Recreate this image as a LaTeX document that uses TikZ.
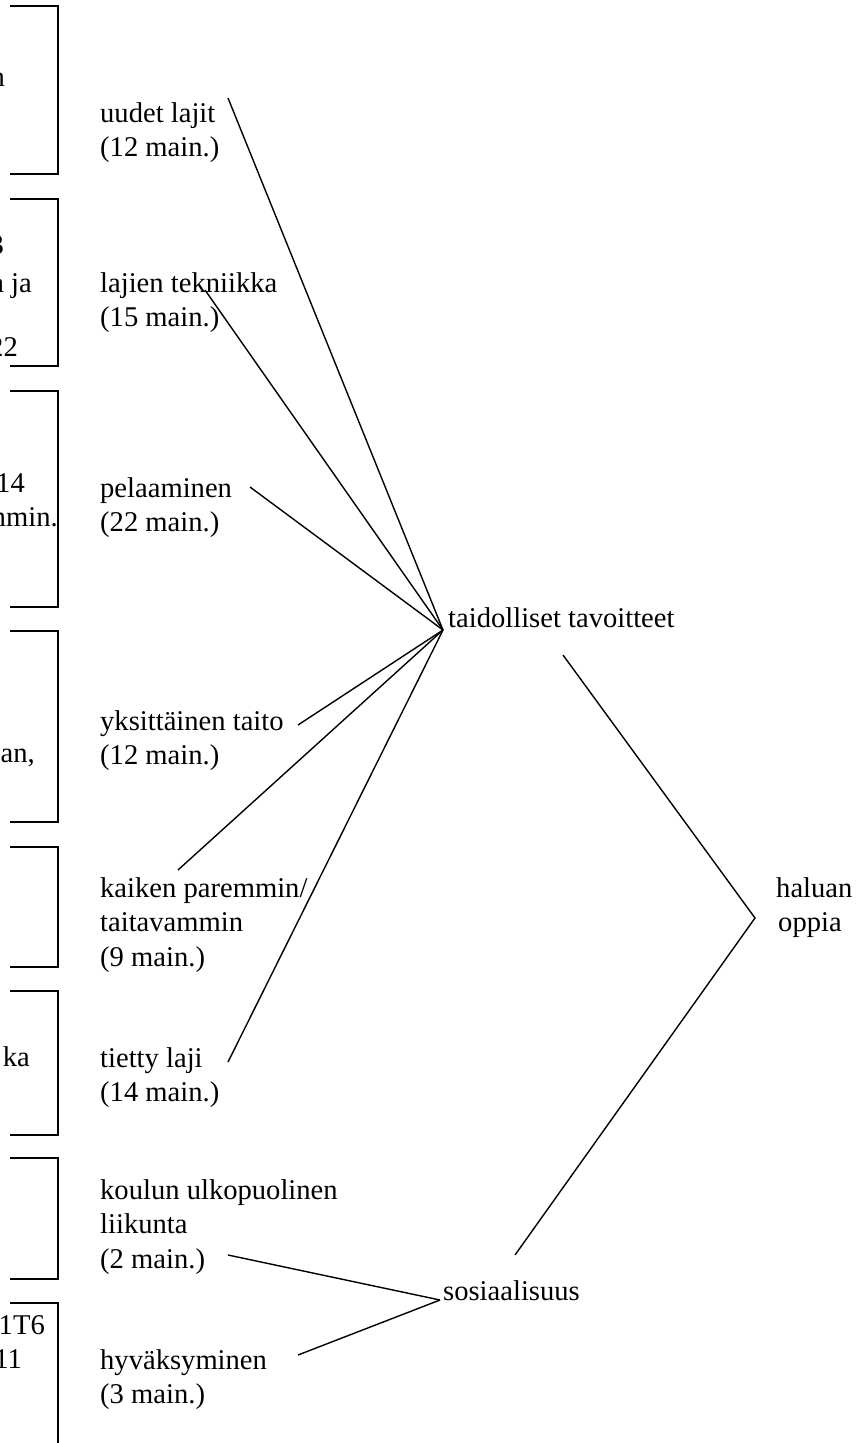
\documentclass[tikz,border=0pt]{standalone}
\usepackage{fontspec}
\setmainfont{Liberation Serif}
\begin{document}
\begin{tikzpicture}[x=1bp,y=-1bp,
  lbl/.style={inner sep=0pt,anchor=base west,align=left,font=\fontsize{28.7}{34.5}\selectfont},
  frag/.style={inner sep=0pt,anchor=base east,font=\fontsize{28.7}{34.5}\selectfont},
  conn/.style={line width=1.4bp,black},
  brk/.style={line width=1.5bp,black}]
\useasboundingbox (0,0) rectangle (867,1443);
% brackets on the left
\draw[brk] (10,6) -- (58,6) -- (58,174) -- (10,174);
\draw[brk] (10,199) -- (58,199) -- (58,366) -- (10,366);
\draw[brk] (10,391) -- (58,391) -- (58,607) -- (10,607);
\draw[brk] (10,631) -- (58,631) -- (58,822) -- (10,822);
\draw[brk] (10,847) -- (58,847) -- (58,967) -- (10,967);
\draw[brk] (10,991) -- (58,991) -- (58,1135) -- (10,1135);
\draw[brk] (10,1158) -- (58,1158) -- (58,1279) -- (10,1279);
\draw[brk] (10,1303) -- (58,1303) -- (58,1443);
% cut-off texts (the reference shows them cut at the left edge)
\node[frag] (f1) at (5,87) {n};
\node[frag] (f2) at (4,254) {3};
\node[frag] (f3) at (32,292) {a ja};
\node[frag] (f4) at (18,356) {22};
\node[frag] (f5) at (25,492) {14};
\node[frag] (f6) at (58,526) {mmin.};
\node[frag] (f7) at (35,762) {an,};
\node[frag] (f8) at (30,1066) {ka};
\node[frag] (f9) at (45,1334) {1T6};
\node[frag] (f10) at (22,1368) {11};
% labels (anchored at the baseline of their last line)
\node[lbl] (uudet) at (100,156.5) {uudet lajit\\(12 main.)};
\node[lbl] (tekn) at (100,326.5) {lajien tekniikka\\(15 main.)};
\node[lbl] (pel) at (100,531.5) {pelaaminen\\(22 main.)};
\node[lbl] (yks) at (100,764.5) {yksittäinen taito\\(12 main.)};
\node[lbl] (kaik) at (100,966) {kaiken paremmin/\\taitavammin\\(9 main.)};
\node[lbl] (tiet) at (100,1101.5) {tietty laji\\(14 main.)};
\node[lbl] (koul) at (100,1268) {koulun ulkopuolinen\\liikunta\\(2 main.)};
\node[lbl] (hyv) at (100,1403.5) {hyväksyminen\\(3 main.)};
\node[lbl] (taid) at (448,627) {taidolliset tavoitteet};
\node[lbl] (sos) at (443,1300) {sosiaalisuus};
\node[lbl] (hal) at (776,931.5) {haluan\\\hspace*{2bp}oppia};
% connector end points
\coordinate (hub) at (443,630);
\coordinate (cU) at (228,98);
\coordinate (cT) at (205,290);
\coordinate (cP) at (250,487);
\coordinate (cY) at (298,725);
\coordinate (cK) at (178,870);
\coordinate (cL) at (228,1062);
\coordinate (tR) at (563,655);
\coordinate (vx) at (755,918);
\coordinate (sU) at (515,1255);
\coordinate (cKo) at (228,1255);
\coordinate (cH) at (298,1355);
\coordinate (sW) at (440,1300);
% connectors
\draw[conn] (cU) -- (hub);
\draw[conn] (cT) -- (hub);
\draw[conn] (cP) -- (hub);
\draw[conn] (cY) -- (hub);
\draw[conn] (cK) -- (hub);
\draw[conn] (cL) -- (hub);
\draw[conn] (tR) -- (vx) -- (sU);
\draw[conn] (cKo) -- (sW);
\draw[conn] (cH) -- (sW);
\end{tikzpicture}
\end{document}
